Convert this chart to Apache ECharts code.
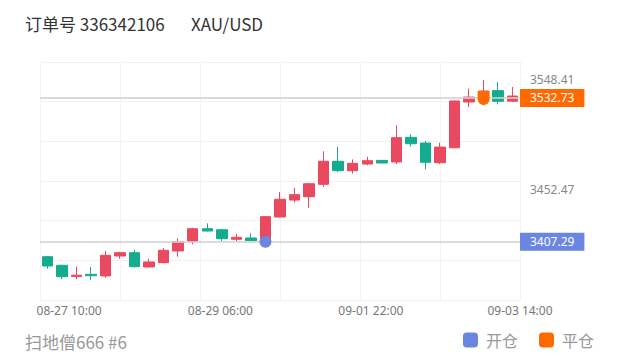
<!DOCTYPE html>
<html>
<head>
<meta charset="utf-8">
<script src="https://cdn.jsdelivr.net/npm/echarts@6/dist/echarts.min.js"></script>
<style>
html,body{margin:0;padding:0;background:#fff;}
#c{width:620px;height:364px;}
</style>
</head>
<body>
<div id="c"></div>
<script>
// ---- data ----
var categories = ['1','2','3','4','5','6','7','8','9','10','11','12','13','14','15','16','17','18','19','20','21','22','23','24','25','26','27','28','29','30','31','32','33'];
var opens  = [3394.3,3386.8,3377.0,3378.9,3377.5,3394.9,3397.8,3385.3,3389.1,3399.3,3407.7,3418.7,3417.8,3409.5,3410.6,3407.29,3428.9,3443.7,3446.6,3457.4,3477.5,3469.3,3475.1,3478.3,3476.9,3498.4,3493.4,3476.3,3489.3,3529.2,3533.5,3539.1,3529.9];
var closes = [3386.2,3376.9,3378.2,3377.7,3395.5,3397.8,3385.6,3389.7,3399.9,3407.4,3418.7,3416.7,3410.0,3411.2,3408.2,3429.2,3444.4,3448.4,3457.9,3477.5,3469.3,3475.7,3478.0,3476.0,3498.1,3492.8,3476.6,3489.9,3530.1,3533.5,3538.8,3529.8,3534.4];
var lows   = [3383.8,3374.6,3374.6,3374.0,3376.0,3392.5,3384.7,3384.7,3388.5,3394.3,3405.1,3416.4,3408.0,3407.4,3407.7,3406.8,3428.5,3441.4,3437.0,3455.3,3468.2,3466.7,3474.0,3475.8,3475.1,3490.2,3470.5,3474.9,3489.0,3524.8,3526.3,3527.2,3529.2];
var highs  = [3394.9,3387.3,3385.6,3385.3,3399.3,3398.7,3400.1,3392.5,3401.9,3410.3,3419.6,3423.4,3418.7,3414.1,3414.7,3429.6,3450.7,3454.2,3458.8,3486.2,3490.2,3479.2,3481.5,3478.6,3508.9,3501.0,3495.2,3493.7,3530.6,3540.8,3548.41,3546.6,3542.3];

var yTickMin = 3356.53;
var yTickStep = 95.94;
var yMax = 3564.08;

var xTickPos = [1.5, 11.9, 22.25, 32.5];
var xTickLabels = ['08-27 10:00', '08-29 06:00', '09-01 22:00', '09-03 14:00'];

var openIndex = 15, openPrice = 3407.29;
var closeIndex = 30, closePrice = 3532.73;

var titleText = '订单号 336342106';
var symbolText = 'XAU/USD';
var footerText = '扫地僧666 #6';
var legendNames = ['开仓', '平仓'];

// ---- colors ----
var UP = '#E94A5F', DOWN = '#14AC8E', BLUE = '#6A86E0', ORANGE = '#FF6A00';

var kdata = categories.map(function (c, i) { return [opens[i], closes[i], lows[i], highs[i]]; });

var chart = echarts.init(document.getElementById('c'), null, {renderer: 'svg'});
chart.setOption({
  animation: false,
  backgroundColor: '#fff',
  title: [
    {text: titleText, left: 20, top: 10, textStyle: {fontSize: 17, fontWeight: 'normal', color: '#333', fontFamily: 'Noto Sans CJK SC'}},
    {text: symbolText, left: 186, top: 10, textStyle: {fontSize: 17, fontWeight: 'normal', color: '#333', fontFamily: 'Noto Sans CJK SC'}},
    {text: footerText, left: 20, top: 328, textStyle: {fontSize: 17, fontWeight: 'normal', color: '#999', fontFamily: 'Noto Sans CJK SC'}}
  ],
  legend: {
    data: legendNames,
    right: 21, top: 327,
    icon: 'roundRect',
    itemWidth: 15, itemHeight: 15, itemGap: 21,
    itemStyle: {opacity: 1},
    textStyle: {fontSize: 16, color: '#999', fontFamily: 'Noto Sans CJK SC', padding: [0, 0, 0, 3]}
  },
  grid: {left: 40, right: 100, top: 62, bottom: 64},
  xAxis: [
    {type: 'category', data: categories, boundaryGap: true,
     axisLine: {show: false}, axisTick: {show: false}, axisLabel: {show: false}, splitLine: {show: false}},
    {type: 'value', min: -0.5, max: 32.5, interval: 5.5, position: 'bottom',
     axisLine: {show: false}, axisTick: {show: false},
     splitLine: {show: true, lineStyle: {color: '#f3f3f3', width: 1}},
     axisLabel: {show: true, customValues: xTickPos, margin: 4, fontSize: 12, color: '#777', fontFamily: 'Noto Sans',
       formatter: function (v) { var k = xTickPos.indexOf(v); return k >= 0 ? xTickLabels[k] : ''; }}}
  ],
  yAxis: [
    {type: 'value', position: 'right', min: yTickMin, max: yMax, interval: yTickStep, scale: true,
     axisLine: {show: false}, axisTick: {show: false}, splitLine: {show: false},
     axisLabel: {showMinLabel: false, showMaxLabel: false, margin: 10, fontSize: 12, color: '#888', fontFamily: 'Noto Sans',
       formatter: function (v) { return v.toFixed(2); }}},
    {type: 'value', min: 0, max: 6, interval: 1, position: 'left',
     axisLine: {show: false}, axisTick: {show: false}, axisLabel: {show: false},
     splitLine: {show: true, lineStyle: {color: '#f1f1f1', width: 1}}}
  ],
  series: [
    {type: 'candlestick', name: 'K', xAxisIndex: 0, yAxisIndex: 0, data: kdata, barWidth: 11,
     itemStyle: {color: UP, color0: DOWN, borderColor: UP, borderColor0: DOWN, borderWidth: 1},
     markLine: {
       symbol: 'none', silent: true,
       lineStyle: {color: 'rgba(210,210,210,0.8)', width: 2, type: 'solid'},
       label: {show: true, position: 'end', distance: 0, color: '#fff', fontSize: 12, fontFamily: 'Noto Sans',
         padding: [3, 10, 3, 10], formatter: function (p) { return Number(p.value).toFixed(2); }},
       data: [
         {yAxis: closePrice, label: {backgroundColor: ORANGE}},
         {yAxis: openPrice, label: {backgroundColor: BLUE}}
       ]
     }},
    {type: 'scatter', name: legendNames[0], xAxisIndex: 0, yAxisIndex: 0, z: 5,
     symbol: 'circle', symbolSize: 12, itemStyle: {color: BLUE, opacity: 1},
     data: [[openIndex, openPrice]]},
    {type: 'scatter', name: legendNames[1], xAxisIndex: 0, yAxisIndex: 0, z: 5,
     symbol: 'path://M0,0 L12,0 L12,8 A6,6 0 0 1 0,8 Z', symbolSize: [12, 14], itemStyle: {color: ORANGE, opacity: 1},
     data: [[closeIndex, closePrice]]}
  ]
});
</script>
</body>
</html>
